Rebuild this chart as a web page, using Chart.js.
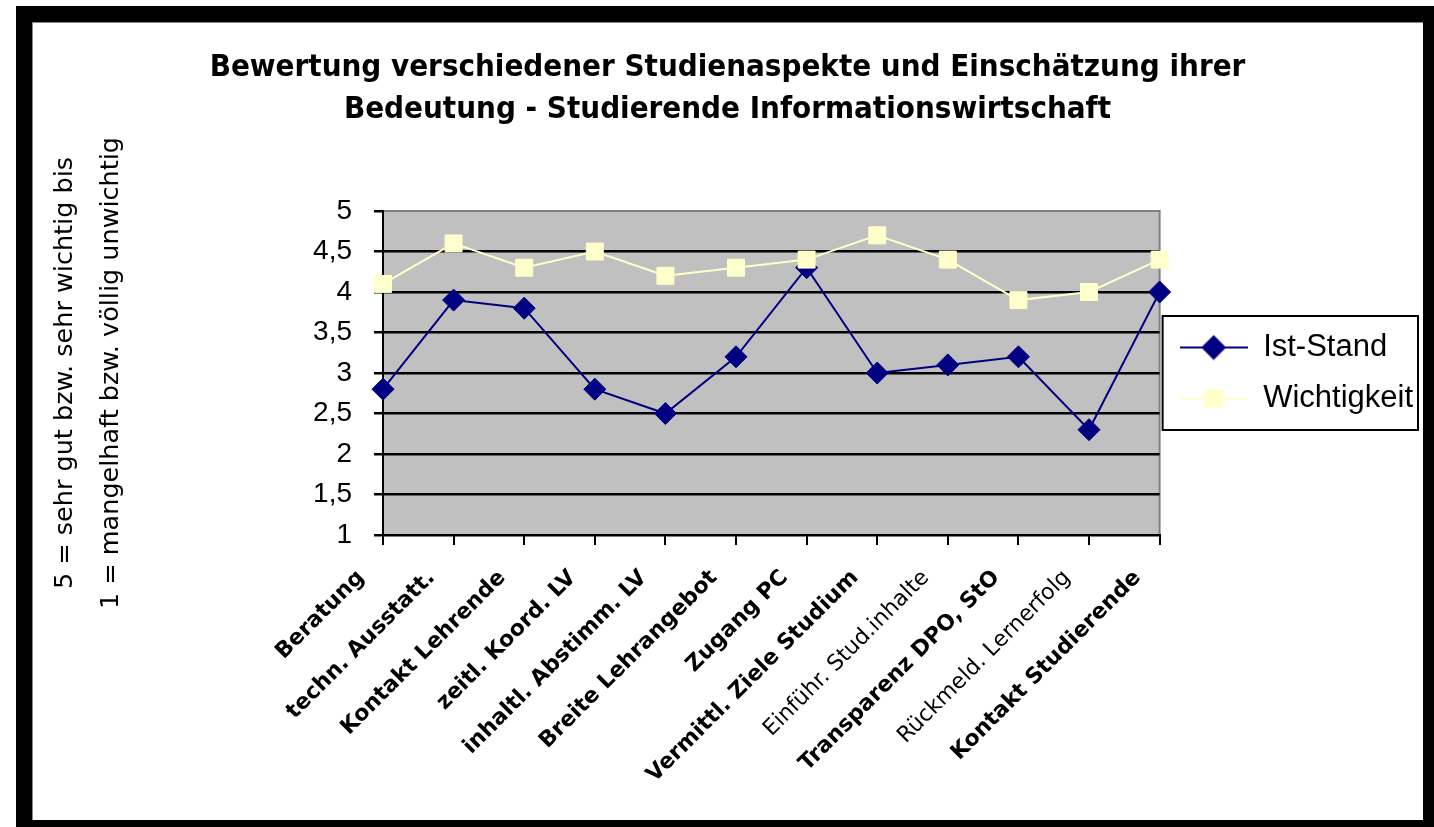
<!DOCTYPE html>
<html>
<head>
<meta charset="utf-8">
<script src="https://cdn.jsdelivr.net/npm/chart.js@4.4.1/dist/chart.umd.min.js"></script>
<style>
html, body { margin: 0; padding: 0; background: #fff; }
#frame { position: absolute; left: 16px; top: 6px; width: 1418px; height: 821px; background: #000; }
#inner { position: absolute; left: 16px; top: 16px; width: 1391px; height: 798px; background: #fff; box-shadow: inset 1px 1px 0 #888; }
#chart { position: absolute; left: 0; top: 0; }
</style>
</head>
<body>
<div id="frame"><div id="inner"><canvas id="chart" width="1391" height="798"></canvas></div></div>
<script>
// categories (x axis)
var categories = ["Beratung", "techn. Ausstatt.", "Kontakt Lehrende", "zeitl. Koord. LV",
	"inhaltl. Abstimm. LV", "Breite Lehrangebot", "Zugang PC", "Vermittl. Ziele Studium",
	"Einführ. Stud.inhalte", "Transparenz DPO, StO", "Rückmeld. Lernerfolg", "Kontakt Studierende"];
var istStand = [2.8, 3.9, 3.8, 2.8, 2.5, 3.2, 4.3, 3.0, 3.1, 3.2, 2.3, 4.0];
var wichtigkeit = [4.1, 4.6, 4.3, 4.5, 4.2, 4.3, 4.4, 4.7, 4.4, 3.9, 4.0, 4.4];
var seriesNames = ["Ist-Stand", "Wichtigkeit"];
var titleLines = ["Bewertung verschiedener Studienaspekte und Einschätzung ihrer",
	"Bedeutung - Studierende Informationswirtschaft"];
var yTitleLines = ["5 = sehr gut bzw. sehr wichtig bis", "1 = mangelhaft bzw. völlig unwichtig"];

var NAVY = "#000080", CREAM = "#FFFFCC";

// little line+marker picture for the legend
var make_sample = function(ds) {
	var c = document.createElement("canvas");
	c.width = 68; c.height = 26;
	var ctx = c.getContext("2d");
	ctx.strokeStyle = ds.borderColor;
	ctx.lineWidth = 2;
	ctx.beginPath(); ctx.moveTo(0, 13); ctx.lineTo(68, 13); ctx.stroke();
	Chart.helpers.drawPoint(ctx, {pointStyle: ds.pointStyle, radius: ds.pointRadius, borderWidth: 1}, 34, 13);
	ctx.fillStyle = ds.backgroundColor;
	ctx.fill();
	return c;
};

var plotBg = {
	id: "plotBg",
	beforeDraw: function(chart) {
		var a = chart.chartArea, ctx = chart.ctx;
		ctx.save();
		ctx.fillStyle = "#C0C0C0";
		ctx.fillRect(a.left, a.top, a.right - a.left, a.bottom - a.top);
		ctx.strokeStyle = "#808080";
		ctx.lineWidth = 2;
		ctx.strokeRect(a.left, a.top, a.right - a.left, a.bottom - a.top);
		ctx.restore();
	}
};

var legendBox = {
	id: "legendBox",
	afterDraw: function(chart) {
		var lg = chart.legend, hb = lg.legendHitBoxes;
		if (!hb || !hb.length) return;
		var last = hb[hb.length - 1];
		var ctx = chart.ctx;
		ctx.save();
		ctx.strokeStyle = "#000";
		ctx.lineWidth = 2;
		ctx.strokeRect(lg.left + 3, hb[0].top - 16, lg.right - lg.left - 8, last.top + last.height + 16 - (hb[0].top - 16));
		ctx.restore();
	}
};

var chart = new Chart(document.getElementById("chart"), {
	type: "line",
	data: {
		labels: categories,
		datasets: [
			{label: seriesNames[0], data: istStand, borderColor: NAVY, backgroundColor: NAVY,
				borderWidth: 2, pointStyle: "rectRot", pointRadius: 11, pointBorderWidth: 1, tension: 0, order: 1},
			{label: seriesNames[1], data: wichtigkeit, borderColor: CREAM, backgroundColor: CREAM,
				borderWidth: 2, pointStyle: "rect", pointRadius: 12, pointBorderWidth: 1, tension: 0, order: 0}
		]
	},
	options: {
		responsive: false,
		animation: false,
		devicePixelRatio: 1,
		layout: {padding: 0},
		plugins: {
			tooltip: {enabled: false},
			title: {
				display: true,
				text: titleLines,
				color: "#000",
				font: {family: "'Liberation Sans Narrow', 'DejaVu Sans Condensed', sans-serif", size: 31, weight: "bold", lineHeight: 42 / 31},
				padding: {top: 25, bottom: 80}
			},
			legend: {
				position: "right",
				fullSize: false,
				labels: {
					color: "#000",
					font: {family: "'Liberation Sans', sans-serif", size: 31},
					usePointStyle: true,
					pointStyleWidth: 68,
					padding: 20,
					generateLabels: function(ch) {
						return ch.data.datasets.map(function(ds, i) {
							return {text: ds.label, pointStyle: make_sample(ds), datasetIndex: i,
								hidden: false, lineWidth: 0, fillStyle: ds.backgroundColor,
								strokeStyle: ds.borderColor, fontColor: "#000"};
						});
					}
				}
			}
		},
		scales: {
			x: {
				offset: false,
				afterFit: function(s) { s.height = 285; },
				grid: {display: true, drawOnChartArea: false, color: "#000", lineWidth: 2, tickLength: 10},
				border: {display: true, color: "#000", width: 2},
				ticks: {
					autoSkip: false, maxRotation: 45, minRotation: 45, color: "#000",
					padding: 20, labelOffset: -22,
					font: function(ctx) {
						var thin = ctx.index === 8 || ctx.index === 10;
						return {family: "'DejaVu Sans', sans-serif", size: 22, weight: thin ? "normal" : "bold"};
					}
				}
			},
			y: {
				min: 1, max: 5,
				afterFit: function(s) { s.width = 351; },
				grid: {
					color: function(ctx) { return ctx.tick && ctx.tick.value === 5 ? "rgba(0,0,0,0)" : "#000"; },
					tickColor: "#000", lineWidth: 2.5, tickLength: 9
				},
				border: {display: true, color: "#000", width: 2},
				ticks: {
					stepSize: 0.5, color: "#000", padding: 22,
					font: {family: "'Liberation Sans', sans-serif", size: 28},
					callback: function(v) { return String(v).replace(".", ","); }
				},
				title: {
					display: true,
					text: yTitleLines,
					color: "#000",
					font: {family: "'DejaVu Sans', sans-serif", size: 25.5, lineHeight: 46 / 25.5},
					padding: {top: 10, bottom: 0}
				}
			}
		}
	},
	plugins: [plotBg, legendBox]
});
</script>
</body>
</html>
